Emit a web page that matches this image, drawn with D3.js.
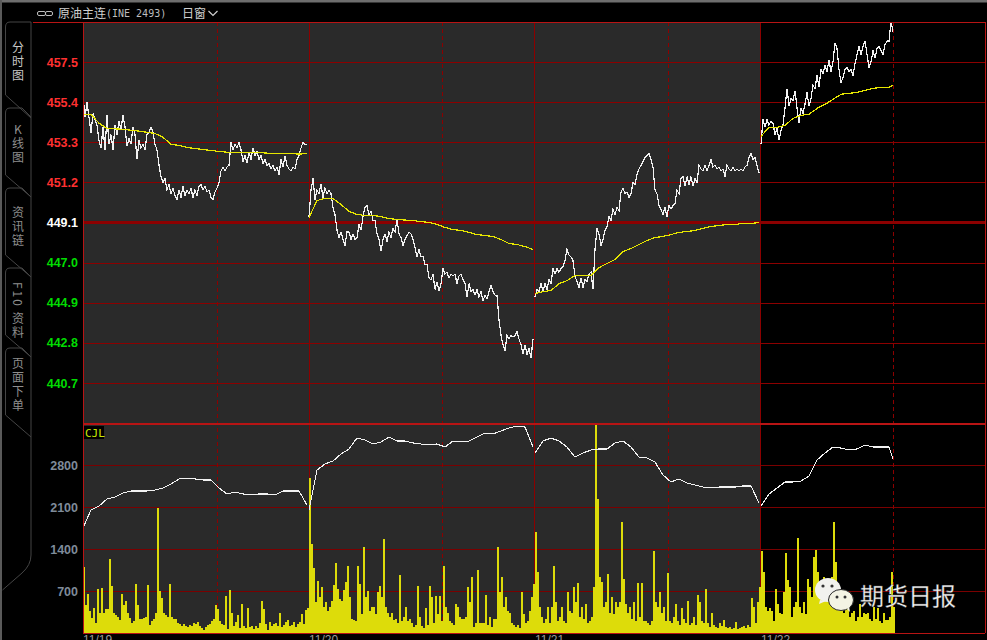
<!DOCTYPE html>
<html><head><meta charset="utf-8">
<style>
html,body{margin:0;padding:0;background:#000;overflow:hidden}
svg{display:block}
</style>
<script src="https://cdn.jsdelivr.net/npm/d3@7"></script>
</head><body>
<svg id="c" width="987" height="640"></svg>
<script>
const title="原油主连";
const code="(INE 2493)";
const period="日窗";
const tabs=["分时图","K线图","资讯链","F10 资料","页面下单"];
const dates=["11/19","11/20","11/21","11/22"];
const priceTicks=[457.5,455.4,453.3,451.2,449.1,447.0,444.9,442.8,440.7];
const volTicks=[2800,2100,1400,700];
const dayStart=[0,113,226,339];
const solidBars=[113.25,225.75,338.75];
const midBars=[67.25,179.75,292.75,405.25];

const price1=[455.8,454.6,455.4,454.6,453.8,454.8,454.5,454.2,453.4,453.0,454.1,452.9,454.7,
453.2,453.7,452.9,454.2,453.7,454.4,454.0,454.7,454.1,453.1,453.5,453.2,454.1,
453.7,452.4,453.4,453.0,453.2,452.9,453.7,453.8,454.1,453.8,453.2,452.9,
452.1,451.5,451.2,451.4,450.8,451.1,450.6,450.9,450.5,450.3,450.8,450.4,451.0,450.5,450.8,450.6,450.9,450.4,450.8,450.5,451.0,451.1,450.8,451.0,450.7,450.8,450.4,450.3,450.7,450.9,
451.2,451.8,452.0,451.8,452.0,452.1,453.3,452.9,453.2,453.0,453.3,452.9,452.3,452.6,452.2,452.8,452.4,453.0,452.6,452.8,452.4,452.6,452.2,452.4,452.1,452.2,451.9,452.1,451.8,452.0,451.6,452.4,452.0,452.6,452.1,451.9,451.8,452.0,451.9,452.4,452.6,453.0,453.3,453.2,453.2];
const price2=[449.4,450.8,451.4,450.3,450.8,450.6,451.1,450.4,450.9,450.6,450.8,450.6,449.9,449.5,448.7,448.3,448.6,448.2,447.9,448.6,
448.6,448.2,448.5,448.2,448.3,449.0,448.7,449.4,449.9,450.0,
449.5,449.7,449.2,449.2,448.5,448.2,447.6,448.2,448.5,448.1,
448.6,448.3,448.8,448.6,449.3,448.5,448.3,447.9,448.2,448.4,
448.6,448.5,448.2,447.8,447.3,447.7,447.3,447.3,446.9,446.9,
446.2,446.1,446.4,445.6,446.0,445.5,445.9,446.7,446.4,446.5,
446.2,446.4,446.3,446.4,445.9,446.3,446.4,446.1,445.9,445.2,
445.9,445.5,445.6,445.3,445.6,445.2,445.5,445.0,445.3,445.1,
445.5,445.8,445.5,445.3,445.3,444.0,443.2,442.7,442.4,443.2,
443.0,443.2,443.1,443.2,443.4,443.0,442.7,442.2,442.7,442.2,
442.5,442.0,443.0];
const price3=[445.2,445.6,445.5,445.9,445.5,445.9,445.6,446.1,445.9,446.7,
446.4,446.7,446.5,446.7,446.8,447.1,447.7,447.4,447.3,447.1,
446.3,446.0,445.7,446.2,445.7,446.1,446.0,446.4,446.5,445.6,
447.7,448.8,448.5,447.9,448.2,448.7,448.9,449.4,449.2,449.8,
449.5,449.9,449.7,450.7,450.9,450.6,450.7,450.4,450.6,451.2,
451.1,451.6,451.9,452.1,452.3,452.5,452.6,452.7,452.4,452.0,
450.8,450.6,450.0,449.8,449.5,449.9,449.4,450.0,449.8,450.0,
450.1,450.8,450.6,451.4,451.5,451.0,451.5,451.1,451.5,451.0,
451.4,451.2,452.1,451.9,451.8,452.1,451.8,452.1,452.4,452.0,
452.1,451.9,452.0,451.8,451.9,451.5,452.1,451.9,451.8,452.0,
451.8,451.9,451.8,451.9,451.8,452.0,452.1,452.5,452.7,452.4,
452.5,452.1,451.7];
const price4=[453.2,454.5,454.1,454.5,454.2,454.4,454.3,453.7,454.0,453.4,
453.9,454.2,455.1,456.1,455.2,455.6,455.5,456.0,455.1,454.3,
455.1,454.8,455.3,455.9,455.2,455.6,456.3,456.1,456.8,456.2,
457.1,456.9,457.3,457.0,457.6,457.0,457.5,458.5,458.2,457.1,
456.4,456.7,457.1,457.2,457.0,457.1,456.8,457.4,457.9,458.3,
457.9,458.3,458.6,457.9,457.2,457.5,458.1,457.7,458.2,458.3,
458.1,457.9,458.4,458.6,458.6,459.6,459.1];

const avg1=[454.76,454.76,454.30,454.02,454.00,453.98,453.93,453.88,453.82,453.76,453.56,453.20,453.13,453.03,452.97,452.92,452.87,452.82,452.78,452.76,452.76,452.76,452.76,452.73,452.73,452.73,452.71,452.68,452.71];
const avg2=[449.36,450.25,450.36,450.36,450.04,449.68,449.52,449.47,449.47,449.41,449.31,449.26,449.23,449.20,449.15,449.10,449.00,448.84,448.73,448.68,448.58,448.47,448.42,448.37,448.21,448.00,447.95,447.84,447.69];
const avg3=[445.38,445.48,445.54,445.90,446.06,446.32,446.32,446.32,446.74,446.95,447.16,447.58,447.74,447.95,448.16,448.31,448.37,448.47,448.58,448.63,448.68,448.79,448.89,448.94,449.00,449.00,449.05,449.05,449.10];
const avg4=[453.61,454.08,454.08,454.18,454.55,454.71,454.76,455.07,455.28,455.55,455.81,455.86,455.91,456.02,456.12,456.17,456.17,456.28];

const cjl1=[1750,2050,2117,2233,2267,2333,2367,2367,2367,2383,2417,2483,2567,2583,2567,2550,2550,2417,2317,2350,2317,2300,2317,2317,2300,2367,2367,2367,2133];
const cjl2=[2050,2717,2817,2867,2983,3067,3250,3217,3150,3183,3267,3200,3200,3167,3150,3133,3150,3100,3200,3183,3200,3267,3333,3317,3367,3417,3450,3433,3100];
const cjl3=[3000,3200,3250,3200,3100,2933,3000,3050,3067,3067,3167,3200,3100,2933,2917,2850,2633,2517,2567,2500,2467,2433,2417,2433,2433,2433,2450,2450,2167];
const cjl4=[2117,2317,2417,2517,2517,2533,2617,2883,3000,3100,3083,3050,3067,3133,3100,3100,3100,2900];

const vol1=[1100,470,650,370,250,420,170,730,330,750,330,400,400,1230,780,330,300,270,220,650,
470,530,330,250,170,200,820,470,230,230,250,270,800,130,200,230,330,2080,700,580,
330,300,270,820,270,230,230,170,150,120,150,120,100,130,120,170,150,180,120,80,
50,100,130,150,200,230,470,400,200,150,130,620,70,720,330,120,180,300,80,480,
120,80,420,100,120,70,120,80,170,530,400,150,50,180,120,150,170,120,330,100,
130,180,220,120,130,180,100,150,180,320,150,380,420];
const vol2=[2580,1480,1090,510,870,600,770,430,510,370,430,540,800,1160,730,560,540,710,850,1120,
600,240,220,200,1120,820,310,1430,600,700,370,430,440,310,680,780,600,1560,430,340,
260,340,220,240,170,970,200,270,440,200,240,170,100,140,780,260,120,80,410,140,
780,600,170,610,310,610,200,1110,430,340,200,170,140,480,440,260,240,240,260,770,
510,940,100,170,1050,170,170,170,630,140,260,100,240,240,1430,680,940,430,600,370,
340,170,140,100,140,80,680,310,170,200,370,600,820];
const vol3=[1680,1020,440,260,170,240,440,170,430,1120,510,200,260,430,200,170,680,370,340,770,
510,830,260,430,240,480,170,200,260,770,3480,2240,940,850,430,510,990,340,600,310,
510,430,510,1850,900,480,340,430,240,510,200,830,260,830,200,200,170,140,200,1360,
510,430,680,340,430,200,1000,200,170,260,480,200,140,410,240,170,540,140,170,260,
140,630,510,200,170,730,170,100,340,140,100,80,170,120,220,100,80,100,70,80,
190,70,80,100,120,80,140,100,580,430,170,510,770];
const vol4=[1360,1020,430,370,410,370,200,730,480,340,310,680,1340,880,770,260,430,510,1580,430,
340,510,310,900,770,600,1260,1390,1020,770,850,940,850,850,680,940,1850,1190,680,510,
600,340,430,430,260,340,370,200,270,480,260,340,310,340,240,200,430,240,410,200,
170,340,220,220,260,1020,430];

const prices=[price1,price2,price3,price4];
const avgs=[avg1,avg2,avg3,avg4];
const cjls=[cjl1,cjl2,cjl3,cjl4];
const vols=[vol1,vol2,vol3,vol4];

const svg=d3.select("#c");
const L=83,R=985,T=22,M=424,B=633;
const x=d3.scaleLinear().domain([0,405]).range([83,893]);
const yP=d3.scaleLinear().domain([440.7,457.5]).range([383,62]);
const yV=d3.scaleLinear().domain([0,2800]).range([633,465]);
const RED="#8c0000",BRIGHT="#b81414";

// frame chrome
svg.append("rect").attr("width",987).attr("height",2.5).attr("fill","#6e6e6e");
svg.append("rect").attr("width",2).attr("height",640).attr("fill","#5a5a5a");
svg.append("rect").attr("x",L).attr("y",T).attr("width",x(solidBars[2])-L).attr("height",B-T).attr("fill","#2a2a2a");

// grid
const gridG=svg.append("g").attr("shape-rendering","crispEdges");
priceTicks.forEach(v=>{
  const yy=Math.round(yP(v))+.5;
  gridG.append("line").attr("x1",L).attr("x2",R).attr("y1",yy).attr("y2",yy)
    .attr("stroke",RED).attr("stroke-width",v===449.1?3:1);
});
volTicks.forEach(v=>gridG.append("line").attr("x1",L).attr("x2",R).attr("y1",Math.round(yV(v))+.5).attr("y2",Math.round(yV(v))+.5).attr("stroke","#7a0000"));
solidBars.forEach(d=>gridG.append("line").attr("x1",x(d)).attr("x2",x(d)).attr("y1",T).attr("y2",B).attr("stroke",RED));
midBars.forEach(d=>gridG.append("line").attr("x1",x(d)).attr("x2",x(d)).attr("y1",T).attr("y2",B).attr("stroke",RED).attr("stroke-dasharray","4,3"));

// volume bars
const barG=svg.append("g").attr("shape-rendering","crispEdges").attr("fill","#dddc0a");
vols.forEach((arr,d)=>{
  barG.selectAll(null).data(arr).enter().append("rect")
    .attr("x",(v,i)=>x(dayStart[d]+i))
    .attr("width",2)
    .attr("y",v=>yV(v))
    .attr("height",v=>yV(0)-yV(v));
});

// lines
svg.append("clipPath").attr("id","pc").append("rect").attr("x",L).attr("y",T).attr("width",R-L).attr("height",M-T);
const pG=svg.append("g").attr("clip-path","url(#pc)").attr("shape-rendering","crispEdges");
const lineP=d3.line().x(d=>x(d[0])).y(d=>yP(d[1]));
const lineV=d3.line().x(d=>x(d[0])).y(d=>yV(d[1]));
prices.forEach((arr,d)=>{
  pG.append("path").attr("d",lineP(arr.map((v,i)=>[dayStart[d]+i,v]))).attr("fill","none").attr("stroke","#f2f2f2").attr("stroke-width",1.2);
});
avgs.forEach((arr,d)=>{
  const last=prices[d].length-1;
  pG.append("path").attr("d",lineP(arr.map((v,i)=>[dayStart[d]+Math.min(i*4,last),v]))).attr("fill","none").attr("stroke","#e6e600").attr("stroke-width",1.2);
});
const cG=svg.append("g").attr("shape-rendering","crispEdges");
cjls.forEach((arr,d)=>{
  const last=prices[d].length-1;
  cG.append("path").attr("d",lineV(arr.map((v,i)=>[dayStart[d]+Math.min(i*4,last),v]))).attr("fill","none").attr("stroke","#f2f2f2").attr("stroke-width",1.1);
});

// frame lines
const fG=svg.append("g").attr("shape-rendering","crispEdges");
fG.append("line").attr("x1",33).attr("x2",R).attr("y1",T+.5).attr("y2",T+.5).attr("stroke",BRIGHT);
fG.append("line").attr("x1",L).attr("x2",R).attr("y1",M).attr("y2",M).attr("stroke",BRIGHT).attr("stroke-width",2);
fG.append("line").attr("x1",L).attr("x2",R).attr("y1",B+.5).attr("y2",B+.5).attr("stroke",BRIGHT);
fG.append("line").attr("x1",L+.5).attr("x2",L+.5).attr("y1",T).attr("y2",B).attr("stroke",BRIGHT);
fG.append("line").attr("x1",R+.5).attr("x2",R+.5).attr("y1",T).attr("y2",B).attr("stroke",BRIGHT);

// axes
const axP=svg.append("g").attr("transform","translate(78,0)").call(d3.axisLeft(yP).tickValues(priceTicks).tickSize(0).tickFormat(d3.format(".1f")));
axP.select(".domain").remove();
axP.selectAll("text").attr("x",0).attr("font-family","Liberation Sans").attr("font-weight","bold").attr("font-size",12.5)
  .attr("fill",d=>d>449.1?"#ff3030":d===449.1?"#ffffff":"#00dc00");
const axV=svg.append("g").attr("transform","translate(78,0)").call(d3.axisLeft(yV).tickValues(volTicks).tickSize(0).tickFormat(d3.format("d")));
axV.select(".domain").remove();
axV.selectAll("text").attr("x",0).attr("font-family","Liberation Sans").attr("font-weight","bold").attr("font-size",12.5).attr("fill","#7f8b9a");

// date labels (cut by the page bottom, as in the reference)
svg.selectAll(".dt").data(dates).enter().append("text").attr("class","dt")
  .attr("x",(d,i)=>x(dayStart[i])).attr("y",644).attr("font-family","Liberation Sans").attr("font-size",12).attr("fill","#9a9a9a").text(d=>d);

// CJL tag
svg.append("rect").attr("x",84).attr("y",426).attr("width",20).attr("height",13).attr("fill","#000");
svg.append("text").attr("x",85).attr("y",437).attr("font-family","DejaVu Sans Mono").attr("font-size",11).attr("fill","#c8e600").text("CJL");

// header
const hG=svg.append("g").attr("stroke","#bdbdbd").attr("fill","none");
hG.append("rect").attr("x",37.5).attr("y",11.5).attr("width",8).attr("height",4).attr("rx",1.5);
hG.append("rect").attr("x",45.5).attr("y",11.5).attr("width",7).attr("height",4).attr("rx",1.5);
svg.append("text").attr("x",58).attr("y",18).attr("font-family","Noto Sans CJK SC").attr("font-size",12).attr("fill","#d0d0d0").text(title);
svg.append("text").attr("x",106).attr("y",17).attr("font-family","DejaVu Sans Mono").attr("font-size",10).attr("fill","#bdbdbd").text(code);
svg.append("text").attr("x",182).attr("y",18).attr("font-family","Noto Sans CJK SC").attr("font-size",12).attr("fill","#d0d0d0").text(period);
svg.append("path").attr("d","M208.5 11 L213 15.5 L217.5 11").attr("stroke","#d0d0d0").attr("stroke-width",1.2).attr("fill","none");

// left tabs
const tabG=svg.append("g").attr("fill","none").attr("stroke","#454545");
tabG.append("path").attr("d","M31 22 H10 Q5.5 22 5.5 27 V95 L31 118");
[[108,175,197],[188,255,277],[268,335,357],[348,415,437]].forEach(t=>{
  tabG.append("path").attr("d",`M31 ${t[0]+9} L22 ${t[0]} H10 Q5.5 ${t[0]} 5.5 ${t[0]+5} V${t[1]} L31 ${t[2]}`);
});
tabG.append("path").attr("d","M31 22 V555 Q31 565 22 573 L2.5 590");
const tabY=[41,123,206,282,357];
tabs.forEach((c,i)=>{
  svg.append("text").attr("x",18).attr("y",tabY[i])
    .attr("font-family","Noto Sans CJK SC").attr("font-size",12)
    .attr("fill",i===0?"#c8c8c8":"#8e8e8e")
    .style("writing-mode","vertical-rl")
    .style("text-orientation",i===1?"upright":"mixed")
    .style("letter-spacing","2px")
    .text(c);
});

// watermark
const wG=svg.append("g");
wG.append("ellipse").attr("cx",828).attr("cy",590).attr("rx",13).attr("ry",12).attr("fill","#f2f2ee");
wG.append("path").attr("d","M820 600 L819 604 L826 601Z").attr("fill","#f2f2ee");
wG.append("ellipse").attr("cx",841).attr("cy",600).attr("rx",12.5).attr("ry",10.5).attr("fill","#f4f4e4").attr("stroke","#2a2a2a").attr("stroke-width",1);
wG.append("path").attr("d","M847 609 L850 612 L849 606Z").attr("fill","#f4f4e4");
[[823,586],[832,586]].forEach(p=>wG.append("circle").attr("cx",p[0]).attr("cy",p[1]).attr("r",1.6).attr("fill","#333"));
[[837,597],[845,597]].forEach(p=>wG.append("circle").attr("cx",p[0]).attr("cy",p[1]).attr("r",1.5).attr("fill","#333"));
wG.append("text").attr("x",860).attr("y",605).attr("font-family","Noto Sans CJK SC").attr("font-size",24).attr("fill","#f4f4f4").attr("stroke","#555").attr("stroke-width",.3).text("期货日报");
</script>
</body></html>
